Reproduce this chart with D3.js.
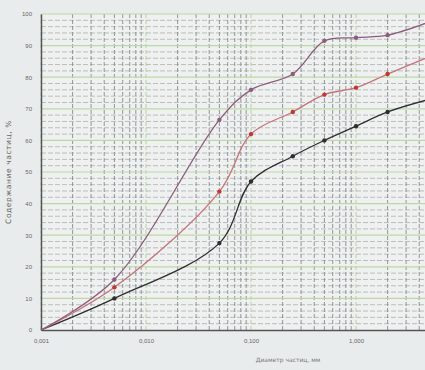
<!DOCTYPE html>
<html>
<head>
<meta charset="utf-8">
<script src="https://cdn.jsdelivr.net/npm/d3@7"></script>
<style>
  html, body { margin: 0; padding: 0; background: #e9ecec; }
  svg { display: block; font-family: "DejaVu Sans", sans-serif; }
</style>
</head>
<body>
<svg id="chart" width="425" height="370"></svg>
<script>
// sieve sizes, mm
const sizes = [0.001, 0.005, 0.05, 0.1, 0.25, 0.5, 1, 2, 5];
// percent passing for each sample
const seriesPurple = [0, 16, 66.5, 76, 81, 91.5, 92.5, 93.3, 97.5];
const seriesRed = [0, 13.5, 43.8, 62, 69, 74.5, 76.7, 81, 86.5];
const seriesBlack = [0, 10, 27.5, 47, 55, 60, 64.5, 69, 73];
const xTicks = [0.001, 0.01, 0.1, 1];
const yTicks = [0, 10, 20, 30, 40, 50, 60, 70, 80, 90, 100];
const yLabel = "Содержание частиц, %";
const xLabel = "Диаметр частиц, мм";

const width = 425, height = 370;
const margin = { top: 14, bottom: 40, left: 41 };

const svg = d3.select("#chart");

const x = d3.scaleLog()
  .domain([0.001, 10])
  .range([margin.left, margin.left + 4 * 105]);

const y = d3.scaleLinear()
  .domain([0, 100])
  .range([height - margin.bottom, margin.top]);

// plot background
svg.append("rect")
  .attr("x", margin.left)
  .attr("y", y(100))
  .attr("width", width - margin.left)
  .attr("height", y(0) - y(100))
  .attr("fill", "#eff1f0");

// grid: minor verticals at log steps
const minorX = [];
for (let d = 0.001; d < 10; d *= 10) {
  for (let k = 1; k <= 9; k++) minorX.push(d * k);
}
const grid = svg.append("g");

// horizontal minor lines every 2 %, major every 10 %
grid.selectAll("line.hy")
  .data(d3.range(2, 100, 2).filter(v => v % 10 !== 0))
  .enter()
  .append("line")
  .attr("x1", margin.left).attr("x2", width)
  .attr("y1", d => y(d)).attr("y2", d => y(d))
  .attr("stroke", "#a2a7a9")
  .attr("stroke-width", 0.7)
  .attr("stroke-dasharray", "5,2");

grid.selectAll("line.vx")
  .data(minorX)
  .enter()
  .append("line")
  .attr("x1", d => x(d)).attr("x2", d => x(d))
  .attr("y1", y(100)).attr("y2", y(0))
  .attr("stroke", d => xTicks.includes(+d.toPrecision(3)) ? "#b2cfa0" : "#868c8f")
  .attr("stroke-width", 0.9)
  .attr("stroke-dasharray", "4,2");

grid.selectAll("line.hmaj")
  .data(yTicks.filter(v => v > 0))
  .enter()
  .append("line")
  .attr("x1", margin.left).attr("x2", width)
  .attr("y1", d => y(d)).attr("y2", d => y(d))
  .attr("stroke", "#bcd8a6")
  .attr("stroke-width", 1.2);

// axes
const xAxis = d3.axisBottom(x)
  .tickValues(xTicks)
  .tickSize(0)
  .tickPadding(9)
  .tickFormat(d => d3.format(".3f")(d).replace(".", ","));

const yAxis = d3.axisLeft(y)
  .tickValues(yTicks)
  .tickSize(0)
  .tickPadding(9);

svg.append("g")
  .attr("transform", `translate(0,${y(0)})`)
  .call(xAxis)
  .call(g => g.select(".domain").attr("stroke", "#555").attr("stroke-width", 1.5))
  .call(g => g.selectAll("text").attr("fill", "#666").attr("font-size", 6));

svg.append("g")
  .attr("transform", `translate(${margin.left},0)`)
  .call(yAxis)
  .call(g => g.select(".domain").attr("stroke", "#555").attr("stroke-width", 1.5))
  .call(g => g.selectAll("text").attr("fill", "#666").attr("font-size", 6));

// axis titles
svg.append("text")
  .attr("transform", `translate(11,${(y(0) + y(100)) / 2}) rotate(-90)`)
  .attr("text-anchor", "middle")
  .attr("font-size", 7.5)
  .attr("letter-spacing", 0.6)
  .attr("fill", "#666")
  .text(yLabel);

svg.append("text")
  .attr("x", 288)
  .attr("y", 362)
  .attr("text-anchor", "middle")
  .attr("font-size", 6)
  .attr("fill", "#777")
  .text(xLabel);

// curves
const series = [
  { values: seriesBlack, line: "#2e2e32", dot: "#2e2e32" },
  { values: seriesRed, line: "#c8727a", dot: "#c0392f" },
  { values: seriesPurple, line: "#8c5c7c", dot: "#8c5c7c" }
];

const line = d3.line()
  .x((d, i) => x(sizes[i]))
  .y(d => y(d))
  .curve(d3.curveCatmullRom.alpha(0.5));

const plot = svg.append("g");
series.forEach(s => {
  plot.append("path")
    .datum(s.values)
    .attr("d", line)
    .attr("fill", "none")
    .attr("stroke", s.line)
    .attr("stroke-width", 1.3);

  plot.selectAll(null)
    .data(s.values.slice(1))
    .enter()
    .append("circle")
    .attr("cx", (d, i) => x(sizes[i + 1]))
    .attr("cy", d => y(d))
    .attr("r", 2.2)
    .attr("fill", s.dot);
});
</script>
</body>
</html>
